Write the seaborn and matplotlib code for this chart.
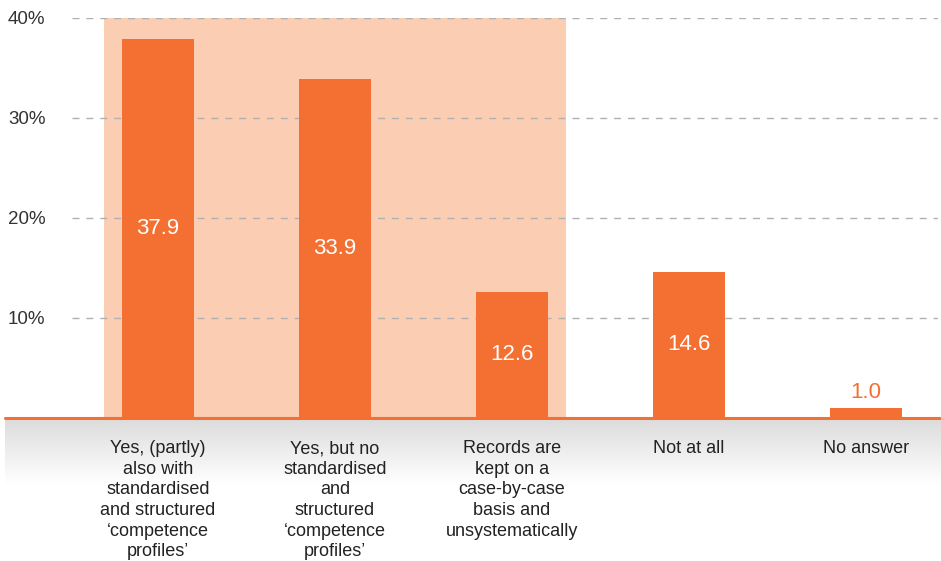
import numpy as np
import pandas as pd
import seaborn as sns
import matplotlib.pyplot as plt
from matplotlib.patches import Rectangle
from matplotlib.lines import Line2D

categories = [
    "Yes, (partly)\nalso with\nstandardised\nand structured\n\u2018competence\nprofiles\u2019",
    "Yes, but no\nstandardised\nand\nstructured\n\u2018competence\nprofiles\u2019",
    "Records are\nkept on a\ncase-by-case\nbasis and\nunsystematically",
    "Not at all",
    "No answer",
]
values = [37.9, 33.9, 12.6, 14.6, 1.0]
yticks = [10, 20, 30, 40]
ytick_labels = ["10%", "20%", "30%", "40%"]

orange = "#F37032"
shade = "#FBCDB2"

sns.set_style("white")
plt.rcParams["font.family"] = ["Liberation Sans", "DejaVu Sans"]

df = pd.DataFrame({"cat": categories, "val": values})

W, H = 941, 561
fig = plt.figure(figsize=(W / 100, H / 100), dpi=100)
ax = fig.add_axes([72 / W, (H - 418) / H, (938 - 72) / W, 400 / H])

# shaded block behind the first three bars
ax.add_patch(Rectangle((-0.305, 0), 2.61, 40, color=shade, zorder=0, lw=0))

sns.barplot(data=df, x="cat", y="val", color=orange, width=0.41,
            saturation=1, linewidth=0, ax=ax, zorder=2)

ax.set_xlim(-0.486, 4.407)
ax.set_ylim(0, 40)
for y in yticks:
    ax.axhline(y, color="#b0b0b0", ls=(0, (5, 5)), lw=1, zorder=1)

ax.set_yticks(yticks)
ax.set_yticklabels(ytick_labels, fontsize=13.5, color="#333333")
ax.tick_params(axis="y", length=0, pad=19)
ax.set_xticks([])
ax.set_xlabel("")
ax.set_ylabel("")
for s in ax.spines.values():
    s.set_visible(False)

# value labels
for i, v in enumerate(values):
    if v > 5:
        ax.text(i, v / 2, f"{v:.1f}", ha="center", va="center",
                color="white", fontsize=16, zorder=3)
    else:
        ax.text(i, v + 1.6, f"{v:.1f}", ha="center", va="center",
                color=orange, fontsize=16, zorder=3)

# grey gradient under the baseline
gax = fig.add_axes([5 / W, (H - 485) / H, (W - 5) / W, 67 / H], zorder=-1)
grad = np.linspace(0.86, 1.0, 100).reshape(-1, 1)
gax.imshow(np.repeat(grad, 2, axis=1), cmap="gray", vmin=0, vmax=1,
           aspect="auto", extent=[0, 1, 0, 1])
gax.axis("off")

# orange baseline
fig.add_artist(Line2D([5 / W, 1], [(H - 418) / H] * 2, color=orange, lw=2.2))

# category labels
for i, c in enumerate(categories):
    ax.text(i, -2.2, c, ha="center", va="top", fontsize=13,
            color="#222222", linespacing=1.28, clip_on=False)

fig.savefig("out.png", dpi=100)
